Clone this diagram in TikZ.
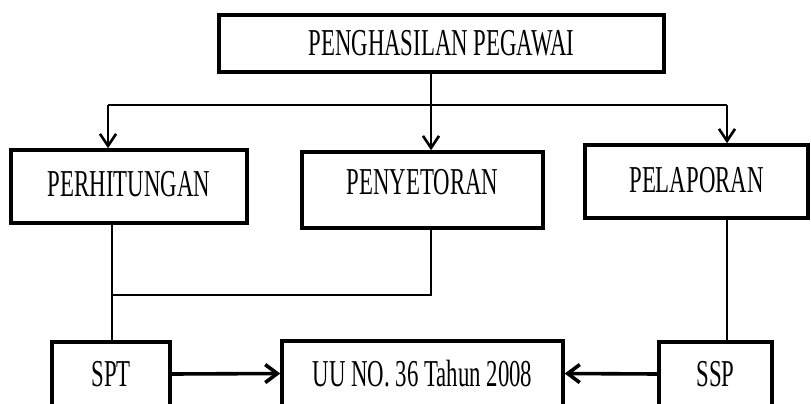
\documentclass[tikz,border=0pt]{standalone}
\usepackage{fontspec}
\setmainfont{Liberation Serif}[FakeStretch=0.6]
\usetikzlibrary{arrows.meta}
\begin{document}
\begin{tikzpicture}[x=1pt,y=-1pt,
  box/.style={draw, line width=3.5pt, inner sep=0pt, font=\fontsize{38}{40}\selectfont},
  conn/.style={line width=2.6pt},
  arr/.style={conn, -{Straight Barb[length=12pt,width=16pt]}},
  harr/.style={line width=3.6pt, -{Straight Barb[length=12pt,width=18pt]}}]
\useasboundingbox (0,0) rectangle (811,404);
% boxes
\node[box, minimum width=445pt, minimum height=57pt] (pg) at (441.5,43.5) {PENGHASILAN PEGAWAI};
\node[box, minimum width=236pt, minimum height=73pt, text depth=6pt] (ph) at (129,186.5) {PERHITUNGAN};
\node[box, minimum width=241pt, minimum height=76pt, text depth=16pt] (py) at (422.5,190) {PENYETORAN};
\node[box, minimum width=223pt, minimum height=73pt, text depth=4pt] (pl) at (696.5,181.5) {PELAPORAN};
\node[box, minimum width=118pt, minimum height=64pt] (spt) at (111,374) {SPT};
\node[box, minimum width=281pt, minimum height=65pt] (uu) at (422.5,373.5) {UU NO. 36 Tahun 2008};
\node[box, minimum width=113pt, minimum height=64pt] (ssp) at (715.5,374) {SSP};
% junctions
\coordinate (jm) at (431,105);
\coordinate (jl) at (108,105);
\coordinate (jr) at (727,105);
\coordinate (jb) at (112,295);
% top distribution
\draw[conn] (pg.south -| jm) -- (jm);
\draw[conn] (jl) -- (jr);
\draw[arr] (jl) -- (ph.north -| jl);
\draw[arr] (jm) -- (py.north -| jm);
\draw[arr] (jr) -- (pl.north -| jr);
% lower connections
\draw[conn] (py.south -| jm) |- (jb);
\draw[conn] (ph.south -| jb) -- (spt.north -| jb);
\draw[conn] (pl.south -| jr) -- (ssp.north -| jr);
\draw[harr] (spt.east) -- (uu.west);
\draw[harr] (ssp.west) -- (uu.east);
\end{tikzpicture}
\end{document}
